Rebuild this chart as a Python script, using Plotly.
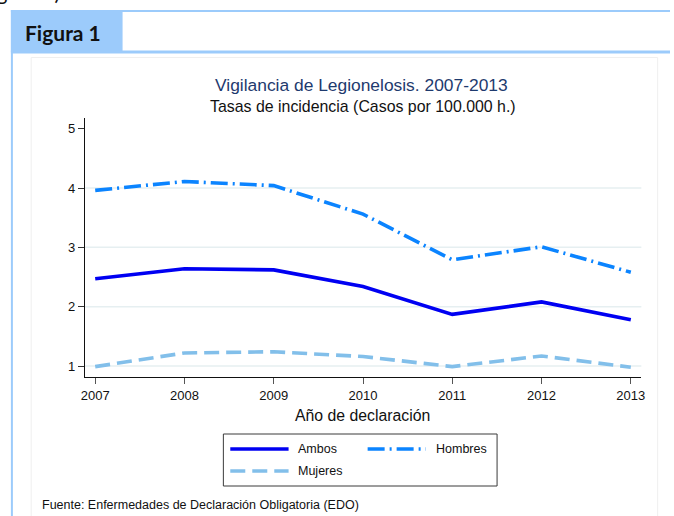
import plotly.graph_objects as go

# Legionellosis incidence rates (cases per 100,000 inhabitants)
years = [2007, 2008, 2009, 2010, 2011, 2012, 2013]
ambos = [2.47, 2.64, 2.62, 2.34, 1.87, 2.08, 1.78]
hombres = [3.96, 4.11, 4.04, 3.56, 2.79, 3.01, 2.58]
mujeres = [0.99, 1.22, 1.24, 1.16, 0.99, 1.17, 0.98]

series_names = ["Ambos", "Hombres", "Mujeres"]
series_colors = ["#0000f2", "#0b84ff", "#82bfea"]
series_dashes = ["solid", "17px,5px,2px,5px", "15px,7px"]
y_ticks = [1, 2, 3, 4, 5]

W, H = 674, 516
SANS = "Liberation Sans, Arial, sans-serif"
BOXBLUE = "#9ccbfb"


def px(x):
    return x / W


def py(y):
    return 1 - y / H


fig = go.Figure()
for name, vals, col, dash in zip(series_names, [ambos, hombres, mujeres],
                                  series_colors, series_dashes):
    fig.add_trace(go.Scatter(x=years, y=vals, mode="lines", name=name,
                             line=dict(color=col, width=3.6, dash=dash),
                             showlegend=False, hoverinfo="x+y+name"))

shapes = []
# light horizontal grid lines
for v in y_ticks[:-1]:
    shapes.append(dict(type="line", xref="x domain", yref="y", x0=0, x1=1,
                       y0=v, y1=v, line=dict(color="#e6eff1", width=1.5),
                       layer="below"))

# document frame: blue box with "Figura 1" tab, grey inner panel
shapes += [
    dict(type="rect", xref="paper", yref="paper", x0=px(7), x1=px(120),
         y0=py(52), y1=py(10), fillcolor=BOXBLUE, line=dict(width=0),
         layer="below"),
    dict(type="line", xref="paper", yref="paper", x0=px(7), x1=1,
         y0=py(11), y1=py(11), line=dict(color=BOXBLUE, width=2)),
    dict(type="line", xref="paper", yref="paper", x0=px(7), x1=1,
         y0=py(52), y1=py(52), line=dict(color=BOXBLUE, width=3)),
    dict(type="line", xref="paper", yref="paper", x0=px(8), x1=px(8),
         y0=py(10), y1=0, line=dict(color=BOXBLUE, width=2)),
    dict(type="rect", xref="paper", yref="paper", x0=px(27.5), x1=px(661.5),
         y0=-0.05, y1=py(57.5), line=dict(color="#efefef", width=1),
         layer="below"),
]

# legend box drawn with the same styles as the series
leg_x0, leg_x1, leg_y0, leg_y1 = 222, 499, 434, 486
shapes.append(dict(type="rect", xref="paper", yref="paper",
                   x0=px(leg_x0), x1=px(leg_x1), y0=py(leg_y1), y1=py(leg_y0),
                   line=dict(color="#3a3a3a", width=1)))
legend_slots = [(229, 449), (368, 449), (229, 471)]
annotations = []
for (lx, ly), name, col, dash in zip(legend_slots, series_names,
                                     series_colors, series_dashes):
    shapes.append(dict(type="line", xref="paper", yref="paper",
                       x0=px(lx), x1=px(lx + 59), y0=py(ly), y1=py(ly),
                       line=dict(color=col, width=3.6, dash=dash)))
    annotations.append(dict(xref="paper", yref="paper", x=px(lx + 67),
                            y=py(ly), xanchor="left", yanchor="middle",
                            text=name, showarrow=False,
                            font=dict(family=SANS, size=12.5, color="#111")))

annotations += [
    dict(xref="paper", yref="paper", x=px(64), y=py(6), xanchor="right",
         yanchor="bottom", text="(Figura 1).", showarrow=False,
         font=dict(family="Lato, sans-serif", size=21, color="#111")),
    dict(xref="paper", yref="paper", x=px(19), y=py(32), xanchor="left",
         yanchor="middle", text="<b>Figura 1</b>", showarrow=False,
         font=dict(family="Lato, sans-serif", size=21, color="#111")),
    dict(xref="paper", yref="paper", x=px(362), y=py(85), xanchor="center",
         yanchor="middle", text="Vigilancia de Legionelosis. 2007-2013",
         showarrow=False, font=dict(family=SANS, size=17.4, color="#1e3a6e")),
    dict(xref="paper", yref="paper", x=px(363), y=py(106.5), xanchor="center",
         yanchor="middle", text="Tasas de incidencia (Casos por 100.000 h.)",
         showarrow=False, font=dict(family=SANS, size=15.9, color="#111")),
    dict(xref="paper", yref="paper", x=px(363), y=py(415), xanchor="center",
         yanchor="middle", text="Año de declaración", showarrow=False,
         font=dict(family=SANS, size=15.8, color="#111")),
    dict(xref="paper", yref="paper", x=px(36), y=py(505), xanchor="left",
         yanchor="middle",
         text="Fuente: Enfermedades de Declaración Obligatoria (EDO)",
         showarrow=False, font=dict(family=SANS, size=12.5, color="#111")),
]

fig.update_layout(
    width=W, height=H,
    margin=dict(l=0, r=0, t=0, b=0),
    paper_bgcolor="white", plot_bgcolor="white",
    showlegend=False,
    shapes=shapes, annotations=annotations,
    xaxis=dict(domain=[px(82), px(645)], range=[2006.886, 2013.118],
               tickvals=years, ticks="outside", ticklen=6, tickwidth=1,
               tickcolor="#555", showline=True, linecolor="#111",
               linewidth=1.3, showgrid=False, zeroline=False,
               tickfont=dict(family=SANS, size=13, color="#111"),
               fixedrange=True),
    yaxis=dict(domain=[py(377), py(118)], range=[0.815, 5.18],
               tickvals=y_ticks, ticks="outside", ticklen=6, tickwidth=1,
               tickcolor="#333", showline=True, linecolor="#111",
               linewidth=1.3, showgrid=False, zeroline=False,
               tickfont=dict(family=SANS, size=13, color="#111"),
               fixedrange=True),
)

fig.write_html("out.html")
